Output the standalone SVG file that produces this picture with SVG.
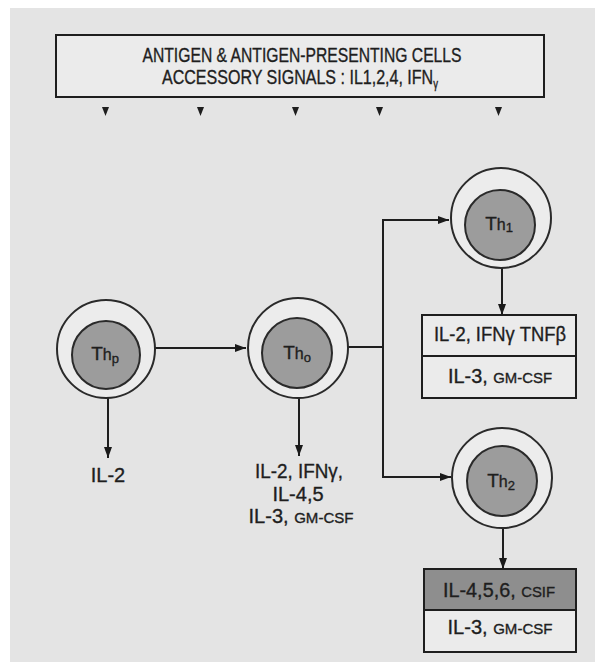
<svg xmlns="http://www.w3.org/2000/svg" width="595" height="662" viewBox="0 0 595 662">
<defs>
<marker id="ah" markerUnits="userSpaceOnUse" markerWidth="12" markerHeight="10" refX="11" refY="5" orient="auto">
<path d="M0,1 L11,5 L0,9 Z" fill="#1a1a1a"/>
</marker>
</defs>
<style>
text{font-family:"Liberation Sans","DejaVu Sans",sans-serif;fill:#1e1e1e;stroke:#1e1e1e;stroke-width:0.35;text-anchor:middle}
.t{font-size:20px}
.s{font-size:15px}
.ring{fill:#ececec;stroke:#2a2a2a;stroke-width:2}
.core{fill:#9c9c9c;stroke:#2a2a2a;stroke-width:2}
.box{fill:#ebebeb;stroke:#1e1e1e;stroke-width:2}
.dark{fill:#8e8e8e;stroke:#1e1e1e;stroke-width:2}
.ln{fill:none;stroke:#1e1e1e;stroke-width:2}
.cl{font-size:19px}
</style>
<rect x="10" y="8" width="585" height="654" fill="#e4e4e4"/>

<g id="apc">
<rect class="box" x="56" y="35" width="488" height="62"/>
<text x="302" y="62" class="t" textLength="319" lengthAdjust="spacingAndGlyphs">ANTIGEN &amp; ANTIGEN-PRESENTING CELLS</text>
<text x="300" y="84" class="t" textLength="276" lengthAdjust="spacingAndGlyphs">ACCESSORY SIGNALS : IL1,2,4, IFN<tspan font-size="12" dy="4">γ</tspan></text>
<g fill="#1e1e1e">
<path d="M102,107 L109,107 L105.5,116 Z"/>
<path d="M197,107 L204,107 L200.5,116 Z"/>
<path d="M292,107 L299,107 L295.5,116 Z"/>
<path d="M376,107 L383,107 L379.5,116 Z"/>
<path d="M495,107 L502,107 L498.5,116 Z"/>
</g>
</g>

<g id="connectors">
<line class="ln" x1="155" y1="348" x2="246" y2="348" marker-end="url(#ah)"/>
<line class="ln" x1="108" y1="398" x2="108" y2="458" marker-end="url(#ah)"/>
<line class="ln" x1="299" y1="398" x2="299" y2="456" marker-end="url(#ah)"/>
<polyline class="ln" points="348,347 383,347"/>
<polyline class="ln" points="383,477 383,220 449,220" marker-end="url(#ah)"/>
<polyline class="ln" points="383,470 383,477 451,477" marker-end="url(#ah)"/>
<line class="ln" x1="502" y1="268" x2="502" y2="315" marker-end="url(#ah)"/>
<line class="ln" x1="503" y1="528" x2="503" y2="569" marker-end="url(#ah)"/>
</g>

<g id="thp">
<circle class="ring" cx="106" cy="349" r="49"/>
<circle class="core" cx="106" cy="355" r="34"/>
<text x="105" y="360" class="cl">T<tspan font-size="16">h</tspan><tspan font-size="13" dy="3">p</tspan></text>
<text x="108" y="482" class="t">IL-2</text>
</g>

<g id="tho">
<circle class="ring" cx="298" cy="348" r="50"/>
<circle class="core" cx="297" cy="353" r="35"/>
<text x="297" y="359" class="cl">T<tspan font-size="16">h</tspan><tspan font-size="13" dy="3">o</tspan></text>
<text x="299" y="478" class="t" textLength="88" lengthAdjust="spacingAndGlyphs">IL-2, IFNγ,</text>
<text x="298" y="501" class="t">IL-4,5</text>
<text x="301" y="523" class="t" textLength="105" lengthAdjust="spacingAndGlyphs">IL-3, <tspan class="s">GM-CSF</tspan></text>
</g>

<g id="th1">
<circle class="ring" cx="501" cy="218" r="50"/>
<circle class="core" cx="500" cy="225" r="35"/>
<text x="499" y="230" class="cl">T<tspan font-size="16">h</tspan><tspan font-size="13" dy="2">1</tspan></text>
<rect class="box" x="422" y="315" width="154" height="41"/>
<rect class="box" x="422" y="356" width="154" height="42"/>
<text x="500" y="341" class="t" textLength="132" lengthAdjust="spacingAndGlyphs">IL-2, IFNγ TNFβ</text>
<text x="500" y="383" class="t" textLength="104" lengthAdjust="spacingAndGlyphs">IL-3, <tspan class="s">GM-CSF</tspan></text>
</g>

<g id="th2">
<circle class="ring" cx="502" cy="478" r="50"/>
<circle class="core" cx="502" cy="481" r="35"/>
<text x="501" y="487" class="cl">T<tspan font-size="16">h</tspan><tspan font-size="13" dy="3">2</tspan></text>
<rect class="dark" x="424" y="569" width="152" height="41"/>
<rect class="box" x="424" y="610" width="152" height="42"/>
<text x="499" y="597" class="t" textLength="112" lengthAdjust="spacingAndGlyphs">IL-4,5,6, <tspan class="s">CSIF</tspan></text>
<text x="500" y="634" class="t" textLength="105" lengthAdjust="spacingAndGlyphs">IL-3, <tspan class="s">GM-CSF</tspan></text>
</g>
</svg>
